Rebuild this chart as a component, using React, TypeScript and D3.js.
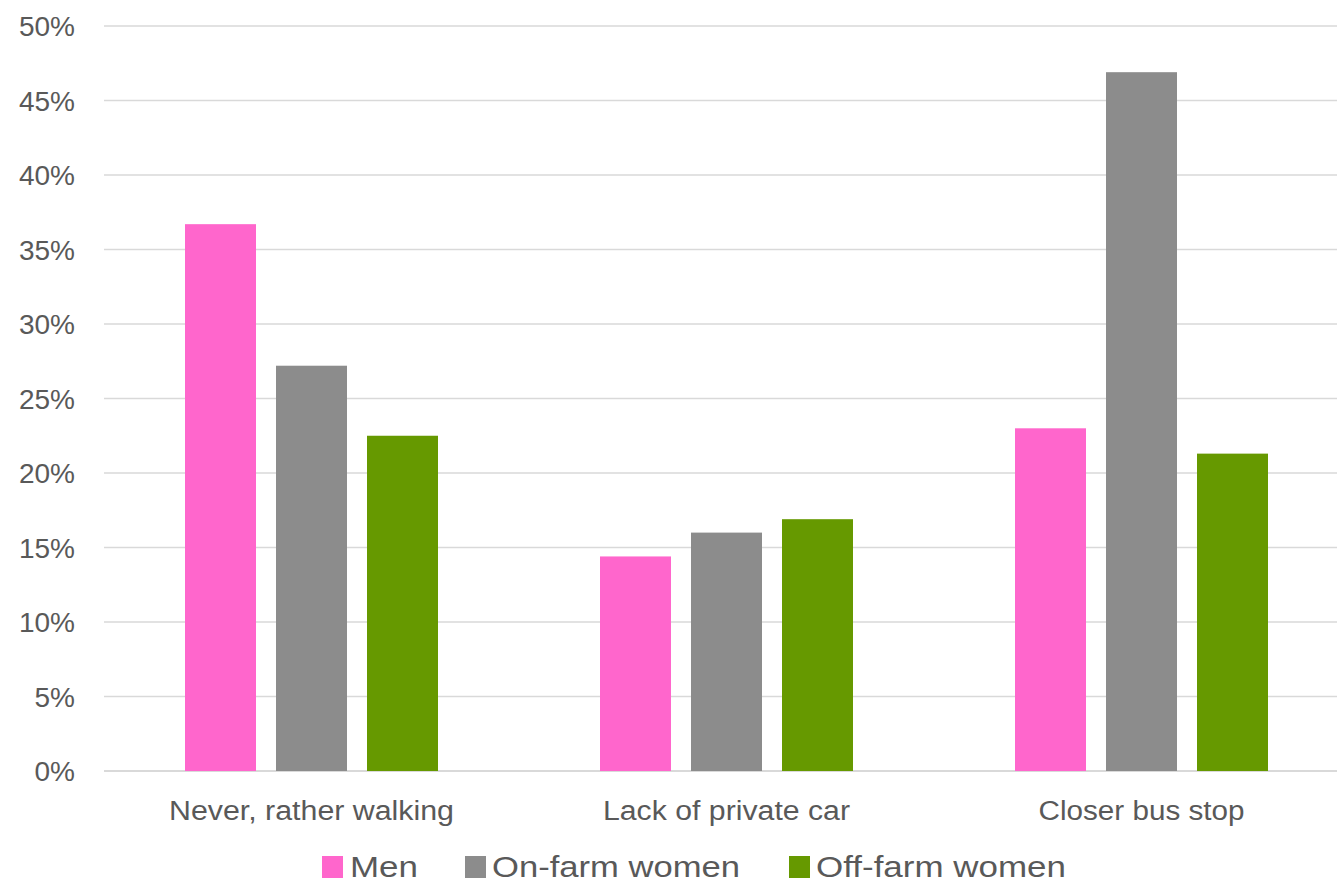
import React from "react";
import * as d3 from "d3";

const categories = ["Never, rather walking", "Lack of private car", "Closer bus stop"];
const seriesNames = ["Men", "On-farm women", "Off-farm women"];
const men = [36.7, 14.4, 23.0];
const onFarm = [27.2, 16.0, 46.9];
const offFarm = [22.5, 16.9, 21.3];
const seriesValues = [men, onFarm, offFarm];
const colors = ["#FF66CC", "#8C8C8C", "#669900"];
const yTicks = [0, 5, 10, 15, 20, 25, 30, 35, 40, 45, 50];

const W = 1337;
const H = 886;
const plotLeft = 104;
const plotRight = 1349;
const plotTop = 26;
const plotBottom = 771;

export default function App() {
  const x0 = d3.scaleBand<string>().domain(categories).range([plotLeft, plotRight]).paddingInner(0).paddingOuter(0);
  const groupW = 253;
  const x1 = d3
    .scaleBand<string>()
    .domain(seriesNames)
    .range([0, groupW])
    .paddingInner(20 / 91)
    .paddingOuter(0);
  const y = d3.scaleLinear().domain([0, 50]).range([plotBottom, plotTop]);
  const groupOffset = (x0.bandwidth() - groupW) / 2;

  const catWidths = [285, 247, 206];
  const legendItems = [
    { sx: 322, tx: 350, tw: 68 },
    { sx: 465, tx: 492, tw: 248 },
    { sx: 789, tx: 816, tw: 250 },
  ];

  return (
    <svg
      width={W}
      height={H}
      style={{ position: "absolute", left: 0, top: 0, background: "#fff" }}
      fontFamily="'Liberation Sans', Arial, sans-serif"
    >
      <rect x={0} y={0} width={W} height={H} fill="#fff" />
      {yTicks.map((t) => (
        <g key={t}>
          <line
            x1={plotLeft}
            x2={W}
            y1={y(t)}
            y2={y(t)}
            stroke="#D9D9D9"
            strokeWidth={t === 0 ? 2 : 1.5}
          />
          <text
            x={75}
            y={y(t) + 10}
            textAnchor="end"
            fontSize={28}
            fill="#595959"
          >
            {d3.format("d")(t)}%
          </text>
        </g>
      ))}
      {categories.map((c, ci) => (
        <g key={c} transform={`translate(${(x0(c) as number) + groupOffset},0)`}>
          {seriesNames.map((s, si) => {
            const v = seriesValues[si][ci];
            return (
              <rect
                key={s}
                x={x1(s) as number}
                y={y(v)}
                width={x1.bandwidth()}
                height={y(0) - y(v)}
                fill={colors[si]}
              />
            );
          })}
        </g>
      ))}
      {categories.map((c, ci) => (
        <text
          key={c}
          x={(x0(c) as number) + x0.bandwidth() / 2}
          y={820}
          textAnchor="middle"
          fontSize={27}
          fill="#595959"
          textLength={catWidths[ci]}
          lengthAdjust="spacingAndGlyphs"
        >
          {c}
        </text>
      ))}
      {seriesNames.map((s, i) => (
        <g key={s}>
          <rect x={legendItems[i].sx} y={856} width={21} height={22} fill={colors[i]} />
          <text
            x={legendItems[i].tx}
            y={877}
            fontSize={30}
            fill="#595959"
            textLength={legendItems[i].tw}
            lengthAdjust="spacingAndGlyphs"
          >
            {s}
          </text>
        </g>
      ))}
    </svg>
  );
}
